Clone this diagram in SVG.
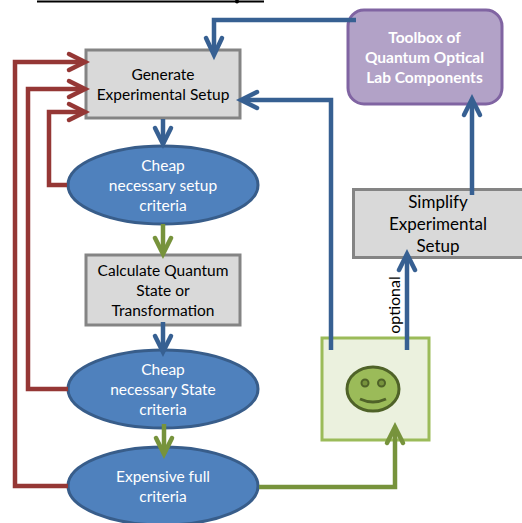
<svg xmlns="http://www.w3.org/2000/svg" width="522" height="523" viewBox="0 0 522 523">
<style>
text{font-family:Lato,"Open Sans","Liberation Sans",sans-serif;font-size:15.5px;text-anchor:middle}
.box{fill:#d9d9d9;stroke:#848484;stroke-width:3}
.oval{fill:#4f81bd;stroke:#385d8a;stroke-width:3}
.w{fill:#fff}
.k{fill:#000}
.c{fill:none;stroke-width:4.5}
.blue{stroke:#376092}
.red{stroke:#953735}
.green{stroke:#77933c}
.h{fill:none;stroke-width:4.5;stroke-linecap:round;stroke-linejoin:miter}
</style>
<rect width="522" height="523" fill="#fff"/>
<g id="title-rule"><path d="M37,1.5H264" stroke="#000" stroke-width="2"/><circle cx="237" cy="1.5" r="2" fill="#000"/></g>
<g id="toolbox"><rect x="348" y="10" width="154" height="94" rx="16" fill="#b2a2c7" stroke="#8064a2" stroke-width="3"/>
<text class="w" font-weight="700" x="424.500" y="43">Toolbox of</text><text class="w" font-weight="700" x="424.500" y="63">Quantum Optical</text><text class="w" font-weight="700" x="424.500" y="83">Lab Components</text></g>
<g id="generate"><rect class="box" x="86" y="50" width="154" height="68"/><text class="k" x="163" y="80">Generate</text><text class="k" x="163" y="100">Experimental Setup</text></g>
<g id="setup-criteria"><ellipse class="oval" cx="163" cy="185" rx="95" ry="39"/><text class="w" x="163" y="171">Cheap</text><text class="w" x="163" y="191">necessary setup</text><text class="w" x="163" y="211">criteria</text></g>
<g id="calculate"><rect class="box" x="86" y="255" width="154" height="70"/><text class="k" x="163" y="276">Calculate Quantum</text><text class="k" x="163" y="296">State or</text><text class="k" x="163" y="316">Transformation</text></g>
<g id="state-criteria"><ellipse class="oval" cx="163" cy="389" rx="95" ry="39"/><text class="w" x="163" y="375">Cheap</text><text class="w" x="163" y="395">necessary State</text><text class="w" x="163" y="415">criteria</text></g>
<g id="full-criteria"><ellipse class="oval" cx="163" cy="486" rx="95" ry="39"/><text class="w" x="163" y="482">Expensive full</text><text class="w" x="163" y="502">criteria</text></g>
<g id="simplify"><rect class="box" x="353.500" y="189.500" width="172" height="68"/><text class="k" x="438" y="208" style="font-size:17px">Simplify</text><text class="k" x="438" y="230" style="font-size:17px">Experimental</text><text class="k" x="438" y="252" style="font-size:17px">Setup</text></g>
<g id="success"><rect x="322" y="338" width="107" height="102" fill="#ebf1de" stroke="#9bbb59" stroke-width="3"/>
<ellipse cx="373" cy="389" rx="26" ry="22" fill="#9bbb59" stroke="#4f6228" stroke-width="3"/>
<circle cx="365" cy="383" r="3.500" fill="#77933c" stroke="#4f6228" stroke-width="2"/><circle cx="381.500" cy="383" r="3.500" fill="#77933c" stroke="#4f6228" stroke-width="2"/>
<path d="M360,399Q373,405 386,399" fill="none" stroke="#4f6228" stroke-width="3"/></g>
<g id="connectors">
<path class="c blue" d="M356,20H214V54"/><path class="h blue" d="M206,38L214,55L222,38"/>
<path class="c blue" d="M331,350V100H243"/><path class="h blue" d="M257,92L241,100L257,108"/>
<path class="c blue" d="M163,119V144"/><path class="h blue" d="M155,128L163,144L171,128"/>
<path class="c green" d="M163,224V253"/><path class="h green" d="M155,238L163,254L171,238"/>
<path class="c blue" d="M163,322V352"/><path class="h blue" d="M155,336L163,352L171,336"/>
<path class="c green" d="M164,424V454"/><path class="h green" d="M156,438L164,454L172,438"/>
<path class="c blue" d="M472,195V100"/><path class="h blue" d="M464,115L472,99L480,115"/>
<path class="c blue" d="M407,350V255"/><path class="h blue" d="M399,270L407,254L415,270"/>
<path class="c green" d="M259,487H395V428"/><path class="h green" d="M387,443L395,427L403,443"/>
<path class="c red" d="M67,185H49V112H84"/><path class="h red" d="M69,104L85,112L69,120"/>
<path class="c red" d="M68,389H28V89H84"/><path class="h red" d="M69,81L85,89L69,97"/>
<path class="c red" d="M68,486H15V62H84"/><path class="h red" d="M69,54L85,62L69,70"/>
</g>
<text class="k" transform="translate(400,305) rotate(-90)" style="font-size:16px">optional</text>
</svg>
